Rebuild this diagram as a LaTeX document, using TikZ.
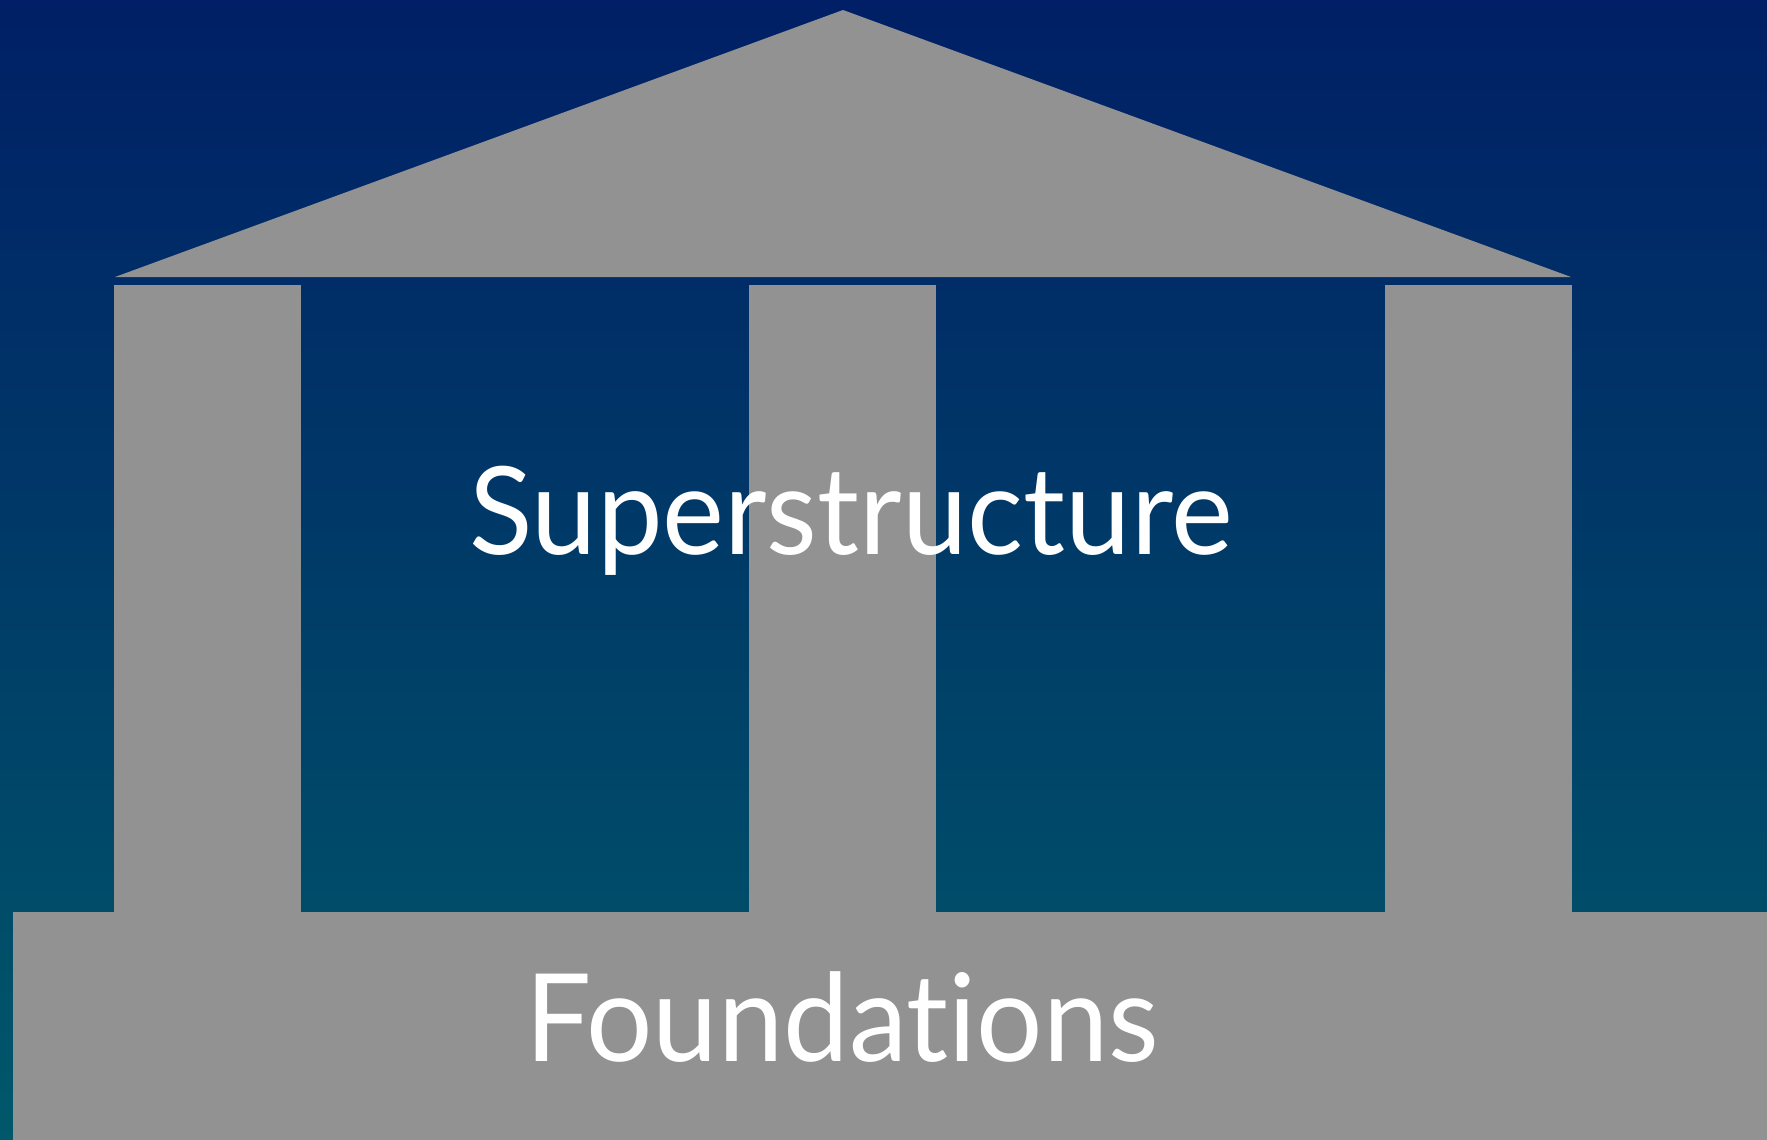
\documentclass[tikz,border=0pt]{standalone}
\usepackage{fontspec}
\setmainfont{Lato}[Ligatures={NoCommon,NoRare}, FakeStretch=0.96]
\usetikzlibrary{calc}
\definecolor{bgtop}{RGB}{0,31,102}
\definecolor{bgbot}{RGB}{0,88,106}
\definecolor{stone}{RGB}{146,146,146}
\tikzset{
  stonepart/.style={fill=stone, draw=none},
  label/.style={text=white, font=\fontsize{61}{70}\selectfont, anchor=base, inner sep=0pt}
}
\begin{document}
\begin{tikzpicture}[x=0.5pt,y=-0.5pt]
  \shade[top color=bgtop, bottom color=bgbot] (0,0) rectangle (1767,1140);
  \useasboundingbox (0,0) rectangle (1767,1140);
  % roof
  \fill[stonepart] (115,277) -- (843,10) -- (1571,277) -- cycle;
  % columns
  \fill[stonepart] (114,285) rectangle (301,913);
  \fill[stonepart] (749,285) rectangle (936,913);
  \fill[stonepart] (1385,285) rectangle (1572,913);
  % foundation
  \fill[stonepart] (13,912) rectangle (1767,1140);
  \node[label] (super) at (851,554) {Superstructure};
  \node[label] (found) at (842,1061) {Foundations};
\end{tikzpicture}
\end{document}
